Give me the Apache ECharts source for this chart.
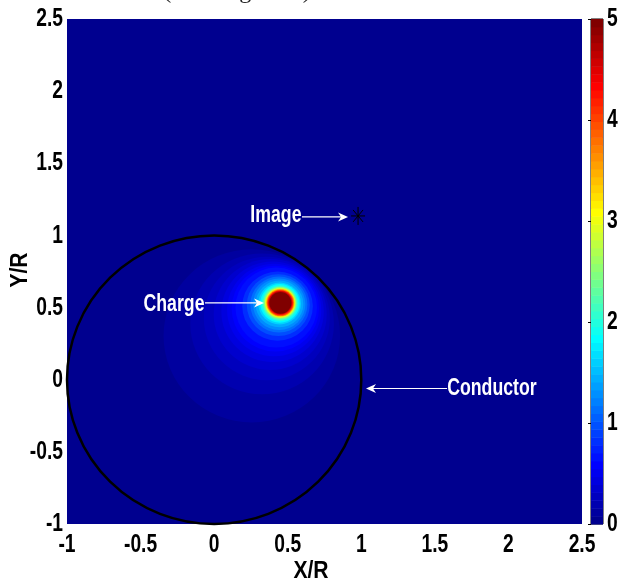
<!DOCTYPE html>
<html><head><meta charset="utf-8">
<script src="https://cdn.jsdelivr.net/npm/echarts@6/dist/echarts.min.js"></script>
<style>html,body{margin:0;padding:0;background:#fff}#c{width:618px;height:579px}</style>
</head><body><div id="c"></div>
<script>
// ---- data ----
const xTicks = [-1, -0.5, 0, 0.5, 1, 1.5, 2, 2.5];
const yTicks = [-1, -0.5, 0, 0.5, 1, 1.5, 2, 2.5];
const colorTicks = [0, 1, 2, 3, 4, 5];
// equipotential level regions (value, centre, radius) in X/R, Y/R units
const levelValues  = [0.08, 0.16, 0.23, 0.31, 0.39, 0.47, 0.55, 0.625, 0.78, 0.94, 1.1, 1.25, 1.4, 1.6, 1.8, 2.0, 2.3, 2.6, 3.0, 3.4, 3.8, 4.2, 4.6, 5.0];
const levelCenterX = [0.256, 0.326, 0.358, 0.381, 0.397, 0.408, 0.416, 0.422, 0.431, 0.436, 0.440, 0.442, 0.444, 0.445, 0.447, 0.447, 0.448, 0.449, 0.449, 0.45, 0.45, 0.45, 0.45, 0.45];
const levelCenterY = [0.304, 0.387, 0.425, 0.452, 0.471, 0.483, 0.493, 0.500, 0.510, 0.517, 0.521, 0.523, 0.525, 0.528, 0.529, 0.530, 0.531, 0.532, 0.532, 0.533, 0.533, 0.533, 0.533, 0.533];
const levelRadius  = [0.600, 0.488, 0.428, 0.384, 0.348, 0.320, 0.297, 0.277, 0.240, 0.214, 0.194, 0.178, 0.162, 0.145, 0.134, 0.124, 0.115, 0.108, 0.102, 0.097, 0.092, 0.087, 0.081, 0.075];
const conductorCircle = [0, 0, 1];          // centre x, centre y, radius
const imagePoint = [0.978, 1.135];
const annotationLabels = ['Charge', 'Image', 'Conductor'];
const annotationTextX  = [-0.273, 0.420, 1.888];
const annotationTextY  = [0.518, 1.135, -0.064];
const arrowFromX = [-0.062, 0.597, 1.583];
const arrowToX   = [0.339, 0.910, 1.032];
const arrowY     = [0.532, 1.128, -0.061];

// ---- styling helpers ----
const FONT = "'Liberation Sans',Arial,sans-serif";
const TICK_FONT = "bold 26px " + FONT;
const TICK_SX = 0.74;
function clamp(v){return Math.max(0, Math.min(1, v));}
function jet(t){
  const r = clamp(1.5 - Math.abs(4*t - 3)), g = clamp(1.5 - Math.abs(4*t - 2)), b = clamp(1.5 - Math.abs(4*t - 1));
  const h = v => ('0' + Math.round(v*255).toString(16)).slice(-2);
  return '#' + h(r) + h(g) + h(b);
}
const jetColors = [];
for (let k = 0; k < 64; k++) jetColors.push(jet((k + 1) / 64));

const xMin = xTicks[0], xMax = xTicks[xTicks.length-1];
const yMin = yTicks[0], yMax = yTicks[yTicks.length-1];
const levelData = levelValues.map((v, i) => [levelCenterX[i], levelCenterY[i], levelRadius[i], v]);
const cMin = colorTicks[0], cMax = colorTicks[colorTicks.length - 1];
const barData = jetColors.map((c, k) => [0, cMin + (cMax - cMin) * k / 64, cMin + (cMax - cMin) * (k + 1) / 64, cMin + (cMax - cMin) * k / 63]);
const annData = annotationLabels.map((l, i) => ({name: l, value: [annotationTextX[i], annotationTextY[i], arrowFromX[i], arrowToX[i], arrowY[i]]}));
const xLabelData = xTicks.map(v => [v, yMin]);
const yLabelData = yTicks.map(v => [xMin, v]);
const cLabelData = colorTicks.map(v => [1, v]);

function tickText(str, x, y, align){
  return {type: 'text', x: x, y: y, scaleX: TICK_SX, style: {text: str, font: TICK_FONT, fill: '#000', align: align, verticalAlign: 'middle'}};
}

const chart = echarts.init(document.getElementById('c'), null, {renderer: 'canvas'});

chart.setOption({
  animation: false,
  backgroundColor: '#fff',
  grid: [
    {left: 67, top: 19, width: 515, height: 505, show: true, backgroundColor: jetColors[0], borderWidth: 0},
    {left: 591, top: 19, width: 12, height: 505, show: true, borderColor: '#000', borderWidth: 1, backgroundColor: 'transparent'}
  ],
  xAxis: [
    {type: 'value', gridIndex: 0, min: xMin, max: xMax, interval: xTicks[1]-xTicks[0],
     axisLine: {show: false}, axisTick: {show: false}, splitLine: {show: false}, axisLabel: {show: false}},
    {type: 'value', gridIndex: 1, min: 0, max: 1, show: false}
  ],
  yAxis: [
    {type: 'value', gridIndex: 0, min: yMin, max: yMax, interval: yTicks[1]-yTicks[0],
     axisLine: {show: false}, axisTick: {show: false}, splitLine: {show: false}, axisLabel: {show: false}},
    {type: 'value', gridIndex: 1, position: 'right', min: cMin, max: cMax, interval: 1,
     axisLine: {show: false}, splitLine: {show: false},
     axisTick: {show: true, inside: true, length: 3, lineStyle: {color: '#000'}},
     axisLabel: {show: false}}
  ],
  visualMap: {type: 'continuous', show: false, min: cMin, max: cMax, dimension: 3, seriesIndex: [0, 2],
              inRange: {color: jetColors}},
  graphic: [
    {type: 'text', x: 237, y: 4, style: {text: '(Floating shell)', font: "24px 'Liberation Serif','Times New Roman',serif", fill: '#222', align: 'center', verticalAlign: 'bottom'}},
    {type: 'text', x: 311, y: 571, scaleX: 0.88, style: {text: 'X/R', font: "bold 24px " + FONT, fill: '#000', align: 'center', verticalAlign: 'middle'}},
    {type: 'text', x: 20, y: 270, rotation: Math.PI/2, scaleX: 0.88, style: {text: 'Y/R', font: "bold 24px " + FONT, fill: '#000', align: 'center', verticalAlign: 'middle'}}
  ],
  series: [
    {type: 'custom', name: 'field', xAxisIndex: 0, yAxisIndex: 0, data: levelData, encode: {x: 0, y: 1},
     renderItem: function(params, api){
       const c = api.coord([api.value(0), api.value(1)]);
       const s = api.size([api.value(2), api.value(2)]);
       return {type: 'circle', x: c[0], y: c[1], scaleY: s[1]/s[0], shape: {cx: 0, cy: 0, r: s[0]},
               style: {fill: api.visual('color')}};
     }},
    {type: 'custom', name: 'conductor', xAxisIndex: 0, yAxisIndex: 0, data: [conductorCircle], encode: {x: 0, y: 1},
     renderItem: function(params, api){
       const c = api.coord([api.value(0), api.value(1)]);
       const s = api.size([api.value(2), api.value(2)]);
       return {type: 'circle', x: c[0], y: c[1], scaleY: s[1]/s[0], shape: {cx: 0, cy: 0, r: s[0]},
               style: {fill: 'none', stroke: '#000', lineWidth: 2.5}};
     }},
    {type: 'custom', name: 'colorbar', xAxisIndex: 1, yAxisIndex: 1, data: barData, encode: {x: 0, y: [1, 2]},
     renderItem: function(params, api){
       const p0 = api.coord([0, api.value(2)]);
       const p1 = api.coord([1, api.value(1)]);
       return {type: 'rect', shape: {x: p0[0], y: p0[1], width: p1[0]-p0[0], height: p1[1]-p0[1] + 0.5},
               style: {fill: api.visual('color')}};
     }},
    {type: 'custom', name: 'annotations', xAxisIndex: 0, yAxisIndex: 0, data: annData, encode: {x: 0, y: 1},
     renderItem: function(params, api){
       const t = api.coord([api.value(0), api.value(1)]);
       const a0 = api.coord([api.value(2), api.value(4)]);
       const a1 = api.coord([api.value(3), api.value(4)]);
       const dir = a1[0] > a0[0] ? 1 : -1;
       const tip = a1[0], y = a1[1];
       return {type: 'group', children: [
         {type: 'text', x: t[0], y: t[1], scaleX: 0.77, style: {text: annotationLabels[params.dataIndex], font: "bold 23px " + FONT, fill: '#fff', align: 'center', verticalAlign: 'middle'}},
         {type: 'line', shape: {x1: a0[0], y1: y, x2: tip - dir*4, y2: y}, style: {stroke: '#fff', lineWidth: 1.2}},
         {type: 'polygon', shape: {points: [[tip, y], [tip - dir*10, y - 4.5], [tip - dir*7, y], [tip - dir*10, y + 4.5]]}, style: {fill: '#fff'}}
       ]};
     }},
    {type: 'custom', name: 'image', xAxisIndex: 0, yAxisIndex: 0, data: [imagePoint], encode: {x: 0, y: 1},
     renderItem: function(params, api){
       const c = api.coord([api.value(0), api.value(1)]);
       const st = {stroke: '#000', lineWidth: 1};
       return {type: 'group', x: c[0], y: c[1], children: [
         {type: 'line', shape: {x1: -7, y1: 0, x2: 7, y2: 0}, style: st},
         {type: 'line', shape: {x1: 0, y1: -9, x2: 0, y2: 9}, style: st},
         {type: 'line', shape: {x1: -5, y1: -6, x2: 5, y2: 6}, style: st},
         {type: 'line', shape: {x1: -5, y1: 6, x2: 5, y2: -6}, style: st}
       ]};
     }},
    {type: 'custom', name: 'xTickLabels', xAxisIndex: 0, yAxisIndex: 0, data: xLabelData, encode: {x: 0, y: 1}, clip: false,
     renderItem: function(params, api){
       const c = api.coord([api.value(0), api.value(1)]);
       return tickText(String(xTicks[params.dataIndex]), c[0], c[1] + 21, 'center');
     }},
    {type: 'custom', name: 'yTickLabels', xAxisIndex: 0, yAxisIndex: 0, data: yLabelData, encode: {x: 0, y: 1}, clip: false,
     renderItem: function(params, api){
       const c = api.coord([api.value(0), api.value(1)]);
       return tickText(String(yTicks[params.dataIndex]), c[0] - 4, c[1], 'right');
     }},
    {type: 'custom', name: 'colorTickLabels', xAxisIndex: 1, yAxisIndex: 1, data: cLabelData, encode: {x: 0, y: 1}, clip: false,
     renderItem: function(params, api){
       const c = api.coord([api.value(0), api.value(1)]);
       return tickText(String(colorTicks[params.dataIndex]), c[0] + 4, c[1], 'left');
     }}
  ]
});
</script>
</body></html>
